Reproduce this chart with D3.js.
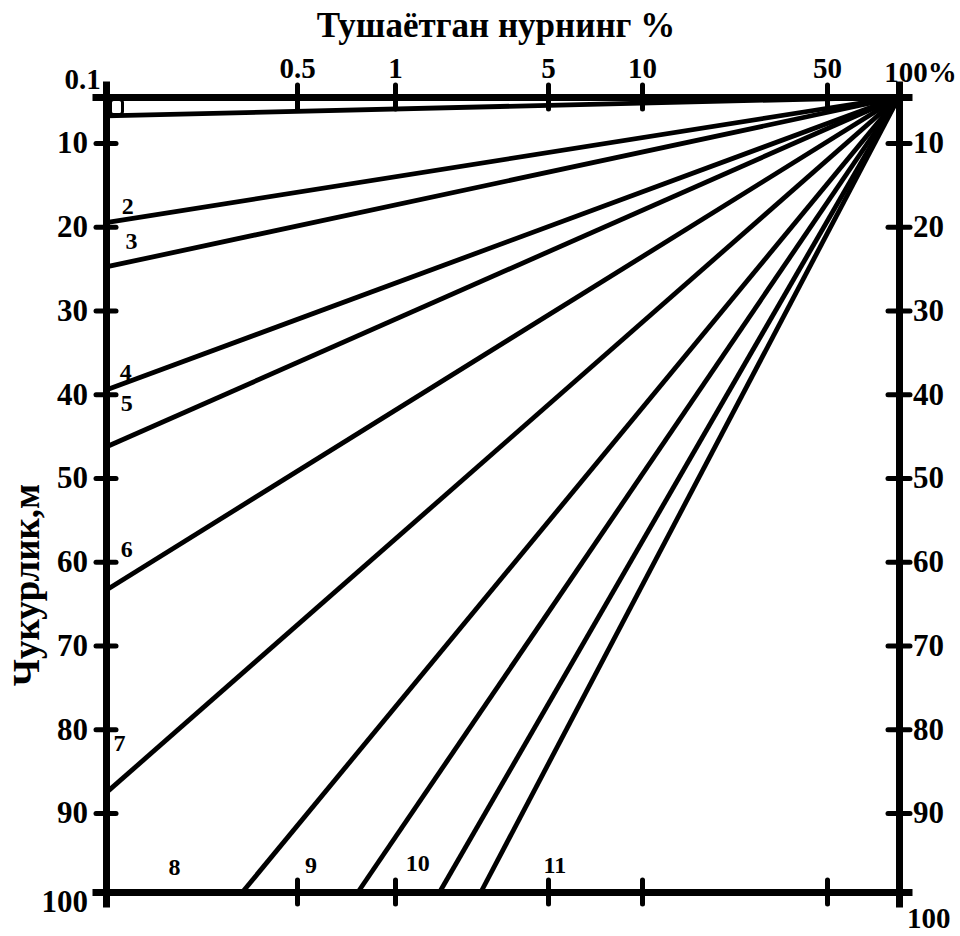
<!DOCTYPE html>
<html><head><meta charset="utf-8">
<script src="https://cdn.jsdelivr.net/npm/d3@7"></script>
<style>
body{margin:0;background:#fff}
text{font-family:"Liberation Serif","Times New Roman",serif;font-weight:bold;fill:#000}
</style>
</head><body>
<svg id="c" width="960" height="936"></svg>
<script>
// ---- data ----
const titleText = "Тушаётган нурнинг %";
const yTitleText = "Чукурлик,м";
const pctTicks = [0.1, 0.5, 1, 5, 10, 50, 100];
const pctTickLabels = ["0.1", "0.5", "1", "5", "10", "50", "100%"];
const depthTicks = [10, 20, 30, 40, 50, 60, 70, 80, 90, 100];
const depthTickLabels = ["10", "20", "30", "40", "50", "60", "70", "80", "90", "100"];
// each line runs from (100 %, 0 m) to its end point
const lineIds = ["1", "2", "3", "4", "5", "6", "7", "8", "9", "10", "11"];
const lineEndPct = [0.1, 0.1, 0.1, 0.1, 0.1, 0.1, 0.1, 0.316, 0.77, 1.6, 2.47];
const lineEndDepth = [4.1, 19.5, 24.8, 39.5, 46.3, 63.4, 87.6, 100, 100, 100, 100];
// label anchors (data units) for lines 2..11
const labelIds = ["2", "3", "4", "5", "6", "7", "8", "9", "10", "11"];
const labelPct = [0.12, 0.124, 0.118, 0.119, 0.119, 0.112, 0.178, 0.552, 1.27, 5.26];
const labelDepth = [17.5, 21.7, 37.3, 41.0, 58.4, 81.6, 96.8, 96.5, 96.3, 96.5];

// ---- scales (axis drawn slightly irregular in the original, so piecewise) ----
const x = d3.scaleLog().domain(pctTicks).range([106, 297, 395, 548, 642, 827, 899]);
const y = d3.scaleLinear().domain([0, 10, 90, 100]).range([97, 143, 813, 892]);

const svg = d3.select("#c");

// ---- lines ----
const lines = lineIds.map((id, i) => ({id, pct: lineEndPct[i], depth: lineEndDepth[i]}));
svg.append("g").selectAll("line").data(lines).join("line")
  .attr("x1", x(100)).attr("y1", y(0))
  .attr("x2", d => x(d.pct)).attr("y2", d => y(d.depth))
  .attr("stroke", "#000").attr("stroke-width", 4.8);

// ---- axes ----
function styleAxis(g, crossAttr, len) {
  g.select(".domain").attr("stroke", "#000").attr("stroke-width", 7).attr("stroke-linecap", "square");
  g.selectAll(".tick line").attr("stroke", "#000").attr("stroke-width", 5).attr("stroke-linecap", "round")
    .attr(crossAttr + "1", -len).attr(crossAttr + "2", len);
  g.selectAll("text").attr("fill", "#000").attr("font-family", null).attr("font-size", null);
}

// top
const gTop = svg.append("g").attr("transform", `translate(0,${y(0)})`)
  .call(d3.axisTop(x).tickValues(pctTicks).tickFormat((d, i) => pctTickLabels[i]).tickSizeOuter(0).tickSize(12));
styleAxis(gTop, "y", 12);
gTop.selectAll(".tick").filter(d => d === 0.1 || d === 100).select("line").remove();
gTop.selectAll(".tick text").style("font-size", "29px").attr("y", -19);
gTop.selectAll(".tick").filter(d => d === 0.1).select("text").attr("x", -24).attr("y", -8);
gTop.selectAll(".tick").filter(d => d === 100).select("text").attr("x", 21).attr("y", -15);

// bottom
const gBot = svg.append("g").attr("transform", `translate(0,${y(100)})`)
  .call(d3.axisBottom(x).tickValues(pctTicks.slice(1, -1)).tickFormat("").tickSizeOuter(0).tickSize(12));
styleAxis(gBot, "y", 12);

// left
const gLeft = svg.append("g").attr("transform", `translate(${x(0.1)},0)`)
  .call(d3.axisLeft(y).tickValues(depthTicks).tickFormat((d, i) => depthTickLabels[i]).tickSizeOuter(0).tickSize(10).tickPadding(8));
styleAxis(gLeft, "x", 10);
gLeft.selectAll(".tick text").style("font-size", "31px").attr("x", -18);
gLeft.selectAll(".tick").filter(d => d === 100).select("line").remove();
gLeft.selectAll(".tick").filter(d => d === 100).select("text").attr("y", 10);

// right
const gRight = svg.append("g").attr("transform", `translate(${x(100)},0)`)
  .call(d3.axisRight(y).tickValues(depthTicks).tickFormat((d, i) => depthTickLabels[i]).tickSizeOuter(0).tickSize(10));
styleAxis(gRight, "x", 11);
gRight.selectAll(".tick text").style("font-size", "31px").attr("x", 14);
gRight.selectAll(".tick").filter(d => d === 100).select("line").remove();
gRight.selectAll(".tick").filter(d => d === 100).select("text").style("font-size", "29px").attr("x", 8).attr("y", 26);

// ---- line labels ----
svg.append("g").selectAll("text").data(labelIds).join("text")
  .attr("x", (d, i) => x(labelPct[i])).attr("y", (d, i) => y(labelDepth[i]))
  .attr("text-anchor", "middle").attr("dy", "0.35em")
  .style("font-size", "24px").text(d => d);

// label box of line 1
svg.append("rect")
  .attr("x", x(0.1) + 4.5).attr("y", y(0) + 2.5).attr("width", 12).attr("height", 15).attr("rx", 3)
  .attr("fill", "#fff").attr("stroke", "#000").attr("stroke-width", 3);

// ---- titles ----
svg.append("text").attr("x", 496).attr("y", 37).attr("text-anchor", "middle")
  .style("font-size", "35px").text(titleText);
svg.append("text").attr("transform", `translate(39,585) rotate(-90)`)
  .attr("text-anchor", "middle").style("font-size", "37px").text(yTitleText);
</script>
</body></html>
